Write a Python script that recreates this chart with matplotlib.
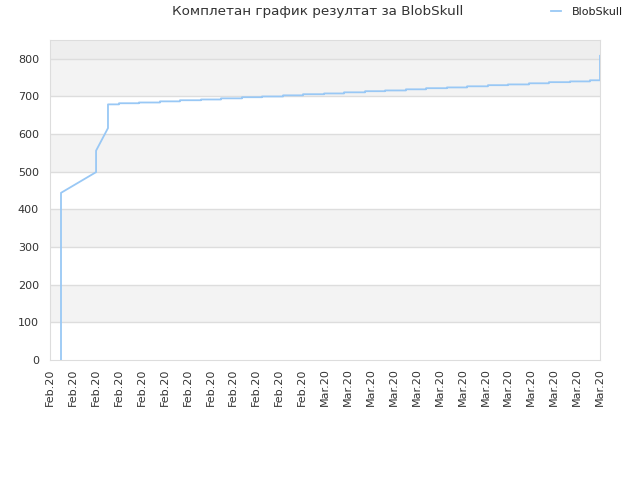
import matplotlib
matplotlib.use("Agg")
import matplotlib.pyplot as plt

# Tick labels along the x axis (one per tick position).
tick_labels = ["Feb.20"] * 12 + ["Mar.20"] * 13

# Early part of the score curve: x in tick units, score values.
start_x = [0.48, 0.48, 2.01, 2.01, 2.53]
start_y = [0, 444, 499, 556, 616]

# Stepped part: positions where the score changes and the new score.
step_x = [2.53, 3.01, 3.88, 4.80, 5.67, 6.59, 7.46, 8.38, 9.25, 10.17,
          11.04, 11.96, 12.83, 13.75, 14.62, 15.53, 16.41, 17.32, 18.20,
          19.11, 19.98, 20.90, 21.77, 22.69, 23.56]
step_y = [679, 682, 684, 687, 690, 692, 695, 698, 700, 703,
          706, 708, 711, 714, 716, 719, 722, 724, 727, 730,
          732, 735, 738, 740, 743]

# Last point at the right edge.
end_x = 24.0
end_y = 808

# Build line vertices: horizontal then vertical for each step.
xs = list(start_x)
ys = list(start_y)
for i in range(len(step_x)):
    xs.append(step_x[i])
    ys.append(step_y[i])
    nxt = step_x[i + 1] if i + 1 < len(step_x) else end_x
    xs.append(nxt)
    ys.append(step_y[i])
xs.append(end_x)
ys.append(end_y)

fig = plt.figure(figsize=(6.4, 4.8), dpi=100)
ax = fig.add_axes([50 / 640, 1 - 360 / 480, 550 / 640, 320 / 480])

ymax = 850
# Alternating background bands.
for k in range(0, 800, 100):
    color = "#ffffff" if (k // 100) % 2 == 0 else "#f3f3f3"
    ax.axhspan(k, k + 100, color=color, zorder=0, lw=0)
ax.axhspan(800, ymax, color="#eeeeee", zorder=0, lw=0)
for k in range(100, 900, 100):
    ax.axhline(k, color="#dddddd", lw=1, zorder=1)

ax.plot(xs, ys, color="#99c8f5", lw=1.3, zorder=3, label="BlobSkull")

ax.set_xlim(0, 24)
ax.set_ylim(0, ymax)
ax.set_xticks(range(len(tick_labels)))
ax.set_xticklabels(tick_labels, rotation=90, fontsize=8, color="#333333")
ax.set_yticks(range(0, 900, 100))
ax.tick_params(axis="y", labelsize=8, labelcolor="#333333", length=0, pad=8)
ax.tick_params(axis="x", length=0, pad=6)
for s in ax.spines.values():
    s.set_color("#dddddd")

fig.text(318 / 640, 1 - 12 / 480, "Комплетан график резултат за BlobSkull",
         ha="center", va="center", fontsize=9.7, color="#333333")

leg = fig.legend(loc="center", bbox_to_anchor=(587 / 640, 1 - 12 / 480),
                 frameon=False, fontsize=8, handlelength=0.9, handletextpad=0.9)
for t in leg.get_texts():
    t.set_color("#222222")

fig.savefig("out.png", dpi=100)
